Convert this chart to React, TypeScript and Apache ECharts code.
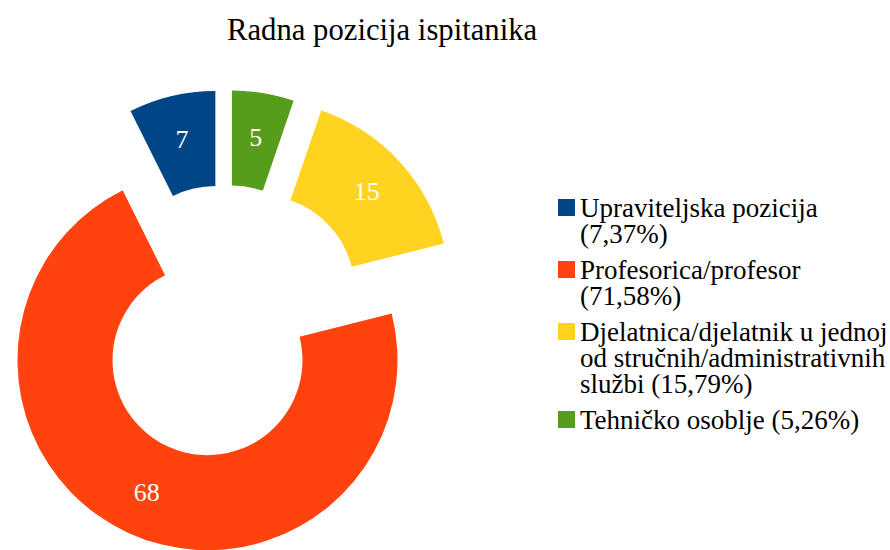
import React, { useEffect, useRef } from 'react';
import * as echarts from 'echarts';

const titleText = 'Radna pozicija ispitanika';
const categories = [
  'Upraviteljska pozicija',
  'Profesorica/profesor',
  'Djelatnica/djelatnik u jednoj od stručnih/administrativnih službi',
  'Tehničko osoblje',
];
const values = [7, 68, 15, 5];
const colors = ['#004586', '#ff420e', '#ffd320', '#579d1c'];
const legendTemplates = [
  'Upraviteljska pozicija\n({p})',
  'Profesorica/profesor\n({p})',
  'Djelatnica/djelatnik u jednoj\nod stručnih/administrativnih\nslužbi ({p})',
  'Tehničko osoblje ({p})',
];

const FONT = 'Times New Roman, serif';
const LEGEND_LEFT = 558;
const LEGEND_FIRST_CENTER = 207;
const LINE_H = 26;
const ITEM_GAP = 10;
const ICON = 17;
// the yellow segment is pulled out a little further than the others
const FAR_INDEX = 2;
const OFFSET_NEAR = 42;
const OFFSET_FAR = 47;

export default function App() {
  const ref = useRef<HTMLDivElement>(null);
  useEffect(() => {
    document.body.style.margin = '0';
    const chart = echarts.init(ref.current as HTMLDivElement, null, { renderer: 'svg' });
    const total = values.reduce((a, b) => a + b, 0);
    const pct = (v: number) => ((v / total) * 100).toFixed(2).replace('.', ',') + '%';

    const textStyle = { fontFamily: FONT, fontSize: 27, lineHeight: LINE_H, color: '#000' };
    const legends: any[] = [];
    let center = LEGEND_FIRST_CENTER;
    categories.forEach((name, i) => {
      const lines = legendTemplates[i].replace('{p}', pct(values[i])).split('\n');
      legends.push({
        orient: 'vertical',
        left: LEGEND_LEFT,
        top: center - LINE_H / 2,
        padding: 0,
        icon: 'rect',
        itemWidth: ICON,
        itemHeight: ICON,
        selectedMode: false,
        data: [name],
        formatter: () => lines[0],
        textStyle,
      });
      if (lines.length > 1) {
        legends.push({
          orient: 'vertical',
          left: LEGEND_LEFT,
          top: center + LINE_H / 2,
          padding: 0,
          icon: 'none',
          itemWidth: ICON,
          itemHeight: ICON,
          selectedMode: false,
          data: [{ name, icon: 'none' }],
          formatter: () => lines.slice(1).join('\n'),
          textStyle,
        });
      }
      center += LINE_H * lines.length + ITEM_GAP;
    });

    const makeData = (visible: (i: number) => boolean) =>
      categories.map((name, i) =>
        visible(i)
          ? { name, value: values[i], selected: true, itemStyle: { color: colors[i] } }
          : {
              name: '',
              value: values[i],
              selected: true,
              itemStyle: { color: 'rgba(0,0,0,0)' },
              label: { show: false },
            }
      );

    const baseSeries = {
      type: 'pie',
      center: [225, 322],
      radius: [95, 190],
      startAngle: 90,
      clockwise: false,
      selectedMode: 'multiple',
      avoidLabelOverlap: false,
      silent: true,
      emphasis: { disabled: true },
      label: {
        show: true,
        position: 'inside',
        formatter: '{c}',
        color: '#ffffff',
        fontFamily: FONT,
        fontSize: 26,
      },
      labelLine: { show: false },
    };

    chart.setOption({
      animation: false,
      backgroundColor: '#ffffff',
      title: {
        text: titleText,
        left: 222,
        top: 9,
        textStyle: { fontFamily: FONT, fontSize: 30.7, fontWeight: 'normal', color: '#000' },
      },
      legend: legends,
      series: [
        {
          ...baseSeries,
          name: 'far',
          selectedOffset: OFFSET_FAR,
          data: makeData((i) => i === FAR_INDEX),
        },
        {
          ...baseSeries,
          name: 'near',
          selectedOffset: OFFSET_NEAR,
          data: makeData((i) => i !== FAR_INDEX),
        },
      ],
    });
    return () => chart.dispose();
  }, []);
  return <div ref={ref} style={{ width: 890, height: 550 }} />;
}
